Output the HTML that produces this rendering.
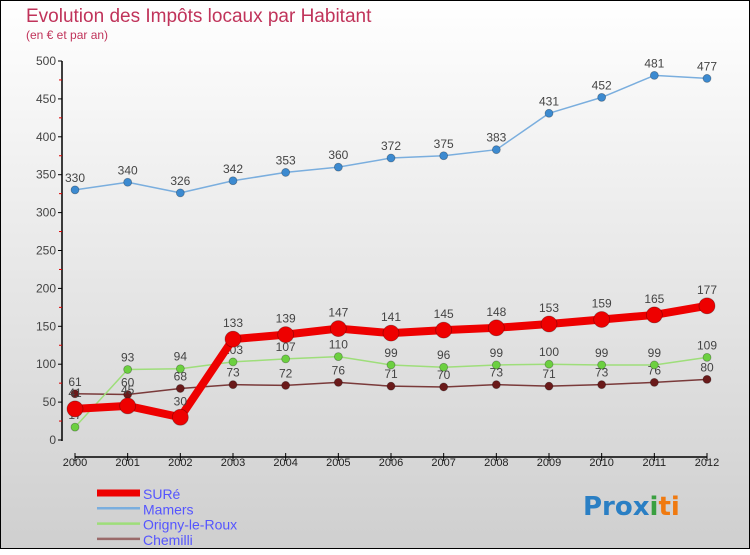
<!DOCTYPE html>
<html><head><meta charset="utf-8"><style>
html,body{margin:0;padding:0}
body{width:750px;height:550px;overflow:hidden;font-family:"Liberation Sans",sans-serif}
</style></head><body>
<svg id="chart" width="750" height="550" xmlns="http://www.w3.org/2000/svg">
<defs><linearGradient id="bg" x1="0" y1="0" x2="0" y2="1"><stop offset="0" stop-color="#ffffff"/><stop offset="1" stop-color="#cfcfcf"/></linearGradient></defs>
<rect x="0.5" y="0.5" width="749" height="548" fill="url(#bg)" stroke="#000" stroke-width="1"/>
<text x="26" y="22" font-size="19" fill="#c0335a">Evolution des Impôts locaux par Habitant</text>
<text x="26" y="39" font-size="12" fill="#c0335a">(en € et par an)</text>
<g id="axes"></g>
<g id="series"></g>
<g id="legend"></g>
<text x="583" y="515" font-size="26" font-family="DejaVu Sans" font-weight="bold"><tspan fill="#2a7fc4">Pro</tspan><tspan fill="#2a7fc4">x</tspan><tspan fill="#3aa040">i</tspan><tspan fill="#f07a10">ti</tspan></text>
</svg>
<script>
const years=[2000,2001,2002,2003,2004,2005,2006,2007,2008,2009,2010,2011,2012];
const sureVals=[41,45,30,133,139,147,141,145,148,153,159,165,177];
const mamersVals=[330,340,326,342,353,360,372,375,383,431,452,481,477];
const orignyVals=[17,93,94,103,107,110,99,96,99,100,99,99,109];
const chemilliVals=[61,60,68,73,72,76,71,70,73,71,73,76,80];
const yTicks=[0,50,100,150,200,250,300,350,400,450,500];
const seriesNames=["SURé","Mamers","Origny-le-Roux","Chemilli"];
const NS="http://www.w3.org/2000/svg";
const X0=75,X1=707,Y0=440,Y1=61;
function xs(i){return X0+(X1-X0)*i/(years.length-1);}
function ys(v){return Y0-(Y0-Y1)*v/500;}
function mk(tag,attrs,parent){const e=document.createElementNS(NS,tag);for(const k in attrs)e.setAttribute(k,attrs[k]);parent.appendChild(e);return e;}
const axes=document.getElementById('axes');
let yl=mk('line',{x1:62,y1:Y1,x2:62,y2:Y0+1,stroke:'#000','stroke-width':1.5},axes);


let xl=mk('line',{x1:X0,y1:Y0+17,x2:X1,y2:Y0+17,stroke:'#000','stroke-width':1.5},axes);


yTicks.forEach((t,i)=>{
 mk('line',{x1:58,y1:ys(t),x2:62,y2:ys(t),stroke:'#000'},axes);
 if(i<yTicks.length-1)mk('line',{x1:59,y1:ys(t+25),x2:62,y2:ys(t+25),stroke:'#d00'},axes);
 const tx=mk('text',{x:56,y:ys(t)+4,'font-size':12,fill:'#444','text-anchor':'end'},axes);
 tx.textContent=t;
 
 
});
years.forEach((y,i)=>{
 mk('line',{x1:xs(i),y1:Y0+13,x2:xs(i),y2:Y0+21,stroke:'#000'},axes);
 const tx=mk('text',{x:xs(i),y:Y0+26,'font-size':11,fill:'#222','text-anchor':'middle'},axes);
 tx.textContent=y;
 
 
});
const sg=document.getElementById('series');
function draw(vals,name,color,dot,lw,r,labelOff){
 const g=mk('g',{},sg);
 
 
 const pl=mk('polyline',{points:vals.map((v,i)=>xs(i)+','+ys(v)).join(' '),fill:'none',stroke:color,'stroke-width':lw,'stroke-linejoin':'round'},g);
 
 
 vals.forEach((v,i)=>{
  const c=mk('circle',{cx:xs(i),cy:ys(v),r:r,fill:dot,stroke:'rgba(0,0,0,0.3)','stroke-width':0.8},g);
  
  
  const t=mk('text',{x:xs(i),y:ys(v)-labelOff,'font-size':12,fill:'#444','text-anchor':'middle'},g);
  t.textContent=v;
  
  
 });
}
draw(chemilliVals,'chemilli','#7a3a3a','#6a1a1a',1.5,4,8);
draw(orignyVals,'origny-le-roux','#9ede7a','#6cd040',1.5,4,8);
draw(mamersVals,'mamers','#7aaede','#3c8ad0',1.5,4,8);
draw(sureVals,'sure','#ee0000','#ee0000',8,8,12);
const lg=document.getElementById('legend');
const lcol=['#ee0000','#7aaede','#9ede7a','#9a6a6a'],lw=[7,2.5,2.5,2.5];
seriesNames.forEach((n,i)=>{
 const y=493+i*15.3;
 const g=mk('g',{},lg);
 
 
 mk('line',{x1:97,y1:y,x2:140,y2:y,stroke:lcol[i],'stroke-width':lw[i]},g);
 const t=mk('text',{x:143,y:y+6,'font-size':14,fill:'#5555ff'},g);
 t.textContent=n;
});
</script>
</body></html>
